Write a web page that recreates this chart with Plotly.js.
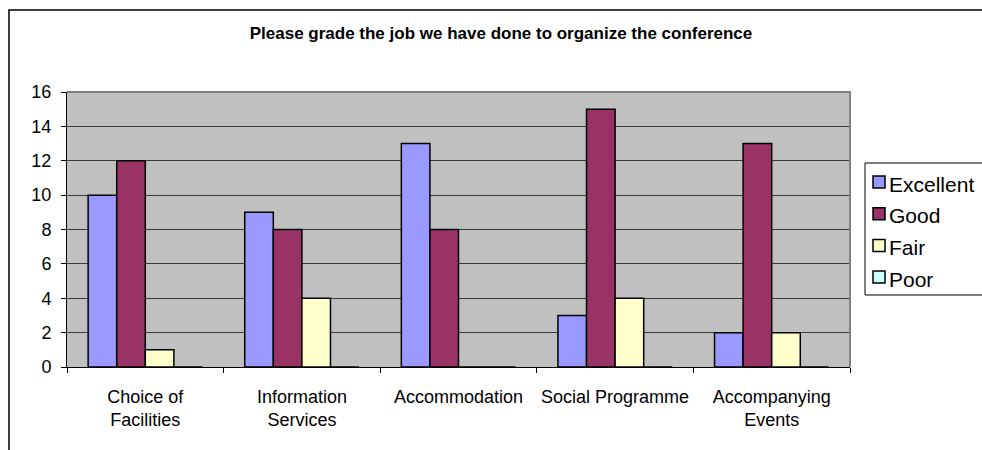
<!DOCTYPE html>
<html>
<head>
<meta charset="utf-8">
<script src="https://cdn.plot.ly/plotly-3.0.1.min.js"></script>
<style>html,body{margin:0;padding:0;background:#fff;overflow:hidden;}#chart{width:1010px;height:470px;}</style>
</head>
<body>
<div id="chart"></div>
<script>
const categories = ["Choice of<br>Facilities", "Information<br>Services", "Accommodation", "Social Programme", "Accompanying<br>Events"];
const seriesNames = ["Excellent", "Good", "Fair", "Poor"];
const excellent = [10, 9, 13, 3, 2];
const good = [12, 8, 8, 15, 13];
const fair = [1, 4, 0, 4, 2];
const poor = [0, 0, 0, 0, 0];
const yTicks = [0, 2, 4, 6, 8, 10, 12, 14, 16];
const colors = ["#9999FF", "#993366", "#FFFFCC", "#CCFFFF"];

const W = 1010, H = 470;
const plotL = 67, plotR = 850, plotT = 92, plotB = 367;
const pw = plotR - plotL, ph = plotB - plotT;
const px = x => (x - plotL) / pw;
const py = y => (plotB - y) / ph;

const allSeries = [excellent, good, fair, poor];
const traces = allSeries.map((vals, i) => ({
  type: "bar",
  name: seriesNames[i],
  x: categories,
  y: vals,
  marker: {color: colors[i], line: {color: "#000", width: 1.5}},
  hoverinfo: "x+y+name",
  showlegend: false
}));

// Excel-style legend built from series names and colours
const legendShapes = [
  {type: "rect", xref: "paper", yref: "paper", x0: px(865), x1: px(1000), y0: py(295), y1: py(163),
   line: {color: "#000", width: 1}, fillcolor: "#fff", layer: "above"}
];
const legendAnn = [];
seriesNames.forEach((name, i) => {
  const cy = 182 + i * 31.7;
  legendShapes.push({type: "rect", xref: "paper", yref: "paper",
    x0: px(873), x1: px(885), y0: py(cy + 6), y1: py(cy - 6),
    line: {color: "#000", width: 1.5}, fillcolor: colors[i], layer: "above"});
  legendAnn.push({xref: "paper", yref: "paper", x: px(887), y: py(cy + 2),
    xanchor: "left", yanchor: "middle", showarrow: false, text: name,
    font: {size: 21, color: "#000"}});
});

const layout = {
  width: W, height: H,
  paper_bgcolor: "#ffffff",
  plot_bgcolor: "#C0C0C0",
  margin: {l: plotL, r: W - plotR, t: plotT, b: H - plotB, autoexpand: false},
  font: {family: "Arial, 'Liberation Sans', sans-serif", color: "#000"},
  title: {
    text: "<b>Please grade the job we have done to organize the conference</b>",
    font: {size: 17, color: "#000", family: "Arial, 'Liberation Sans', sans-serif"},
    xref: "container", x: 501 / W, xanchor: "center",
    yref: "container", y: 1 - 33 / H, yanchor: "middle"
  },
  barmode: "group",
  bargap: 0.27,
  bargroupgap: 0,
  showlegend: false,
  xaxis: {
    type: "category",
    showline: true, linecolor: "#000", linewidth: 1,
    ticks: "outside", tickson: "boundaries", ticklen: 5, tickcolor: "#000",
    tickfont: {size: 18},
    tickangle: 0,
    ticklabelstandoff: 13,
    showgrid: false, zeroline: false
  },
  yaxis: {
    range: [0, 16],
    tickvals: yTicks,
    showline: true, linecolor: "#000", linewidth: 1,
    ticks: "outside", ticklen: 5, tickcolor: "#000",
    tickfont: {size: 18},
    ticklabelstandoff: 6,
    showgrid: true, gridcolor: "#3a3a3a", gridwidth: 1,
    zeroline: false
  },
  annotations: legendAnn,
  shapes: [
    {type: "path", xref: "paper", yref: "paper", path: "M 0 1 L 1 1 L 1 0", line: {color: "#808080", width: 2}, layer: "above"},
    {type: "rect", xref: "paper", yref: "paper", x0: px(9), x1: 1.4, y0: -0.6, y1: py(10), line: {color: "#000", width: 1.5}, fillcolor: "rgba(0,0,0,0)", layer: "above"}
  ].concat(legendShapes)
};

Plotly.newPlot("chart", traces, layout, {displayModeBar: false, staticPlot: true});
</script>
</body>
</html>
